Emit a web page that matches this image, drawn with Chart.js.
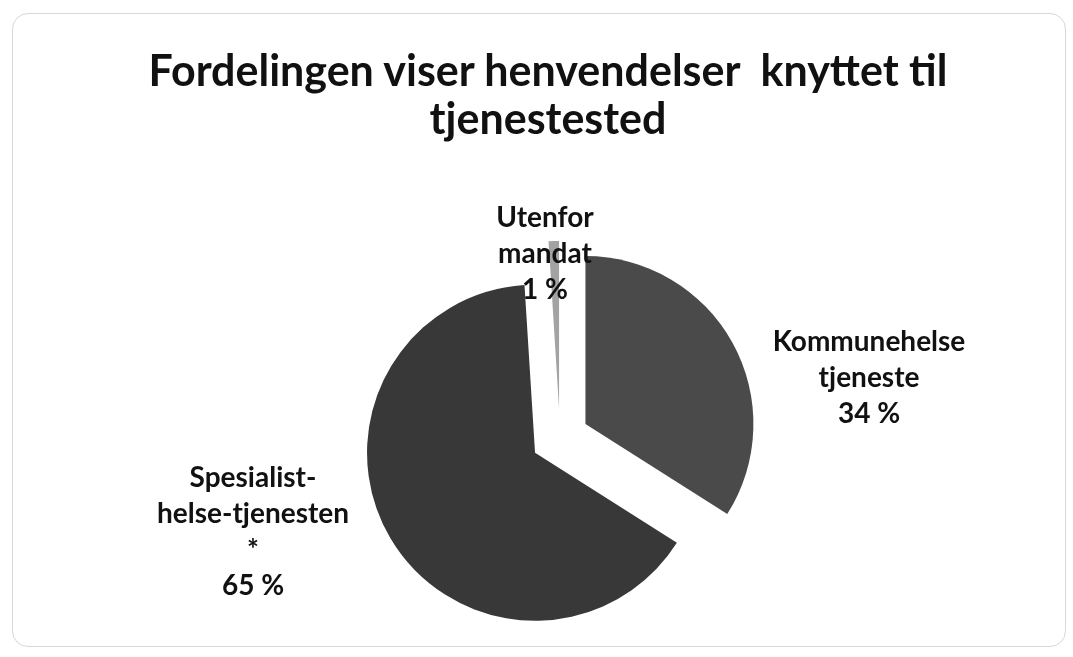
<!DOCTYPE html>
<html>
<head>
<meta charset="utf-8">
<script src="https://cdn.jsdelivr.net/npm/chart.js@4.4.1/dist/chart.umd.min.js"></script>
<style>
    html, body { margin: 0; padding: 0; background: #fff; }
    #wrap { position: relative; width: 1073px; height: 657px; }
    #frame {
        position: absolute; left: 12px; top: 13px; width: 1054px; height: 634px;
        border: 1px solid #d8d8d8; border-radius: 16px; box-sizing: border-box;
    }
    #title {
        position: absolute; left: 0; top: 46px; width: 1096px; text-align: center;
        font-family: Lato, sans-serif; font-weight: bold; font-size: 43px; line-height: 48px;
        color: #111;
    }
    canvas { position: absolute; left: 0; top: 0; }
</style>
</head>
<body>
<div id="wrap">
    <div id="frame"></div>
    <canvas id="chart" width="1073" height="657"></canvas>
    <div id="title">Fordelingen viser henvendelser&nbsp; knyttet til<br>tjenestested</div>
</div>
<script>
const categories = [["Kommunehelse", "tjeneste"], ["Spesialist-", "helse-tjenesten", "*"], ["Utenfor", "mandat"]];
const shares = [34, 65, 1];
const sliceColors = ["#4a4a4a", "#383838", "#a3a3a3"];

// how far each slice is pulled out, and where each label's first line sits relative to the pie centre
const explode = 29;
const labelPos = [[309, -96], [-307, 40], [-15, -220]];

// pull slices straight out along their middle angle (like an exploded office pie)
const explodePlugin = {
    id: "explode",
    beforeDatasetsDraw(c) {
        const ctx = c.ctx;
        c.getDatasetMeta(0).data.forEach(arc => {
            const mid = (arc.startAngle + arc.endAngle) / 2;
            ctx.save();
            ctx.translate(Math.cos(mid) * explode, Math.sin(mid) * explode);
            arc.draw(ctx);
            ctx.restore();
        });
        return false;
    }
};

const labelPlugin = {
    id: "sliceLabels",
    afterDraw(c) {
        const ctx = c.ctx;
        const meta = c.getDatasetMeta(0);
        ctx.save();
        ctx.font = "bold 28px Lato";
        ctx.fillStyle = "#111";
        ctx.textAlign = "center";
        ctx.textBaseline = "middle";
        meta.data.forEach((arc, i) => {
            const lines = categories[i].concat([shares[i] + " %"]);
            lines.forEach((t, j) => {
                ctx.fillText(t, arc.x + labelPos[i][0], arc.y + labelPos[i][1] + j * 36);
            });
        });
        ctx.restore();
    }
};

new Chart(document.getElementById("chart"), {
    type: "pie",
    data: {
        labels: categories.map(l => l.join(" ")),
        datasets: [{
            data: shares,
            backgroundColor: sliceColors,
            borderWidth: 0
        }]
    },
    options: {
        responsive: false,
        animation: false,
        radius: 168,
        layout: { padding: { left: 47, top: 219, bottom: 0, right: 0 } },
        plugins: {
            legend: { display: false },
            tooltip: { enabled: false }
        }
    },
    plugins: [explodePlugin, labelPlugin]
});
</script>
</body>
</html>
